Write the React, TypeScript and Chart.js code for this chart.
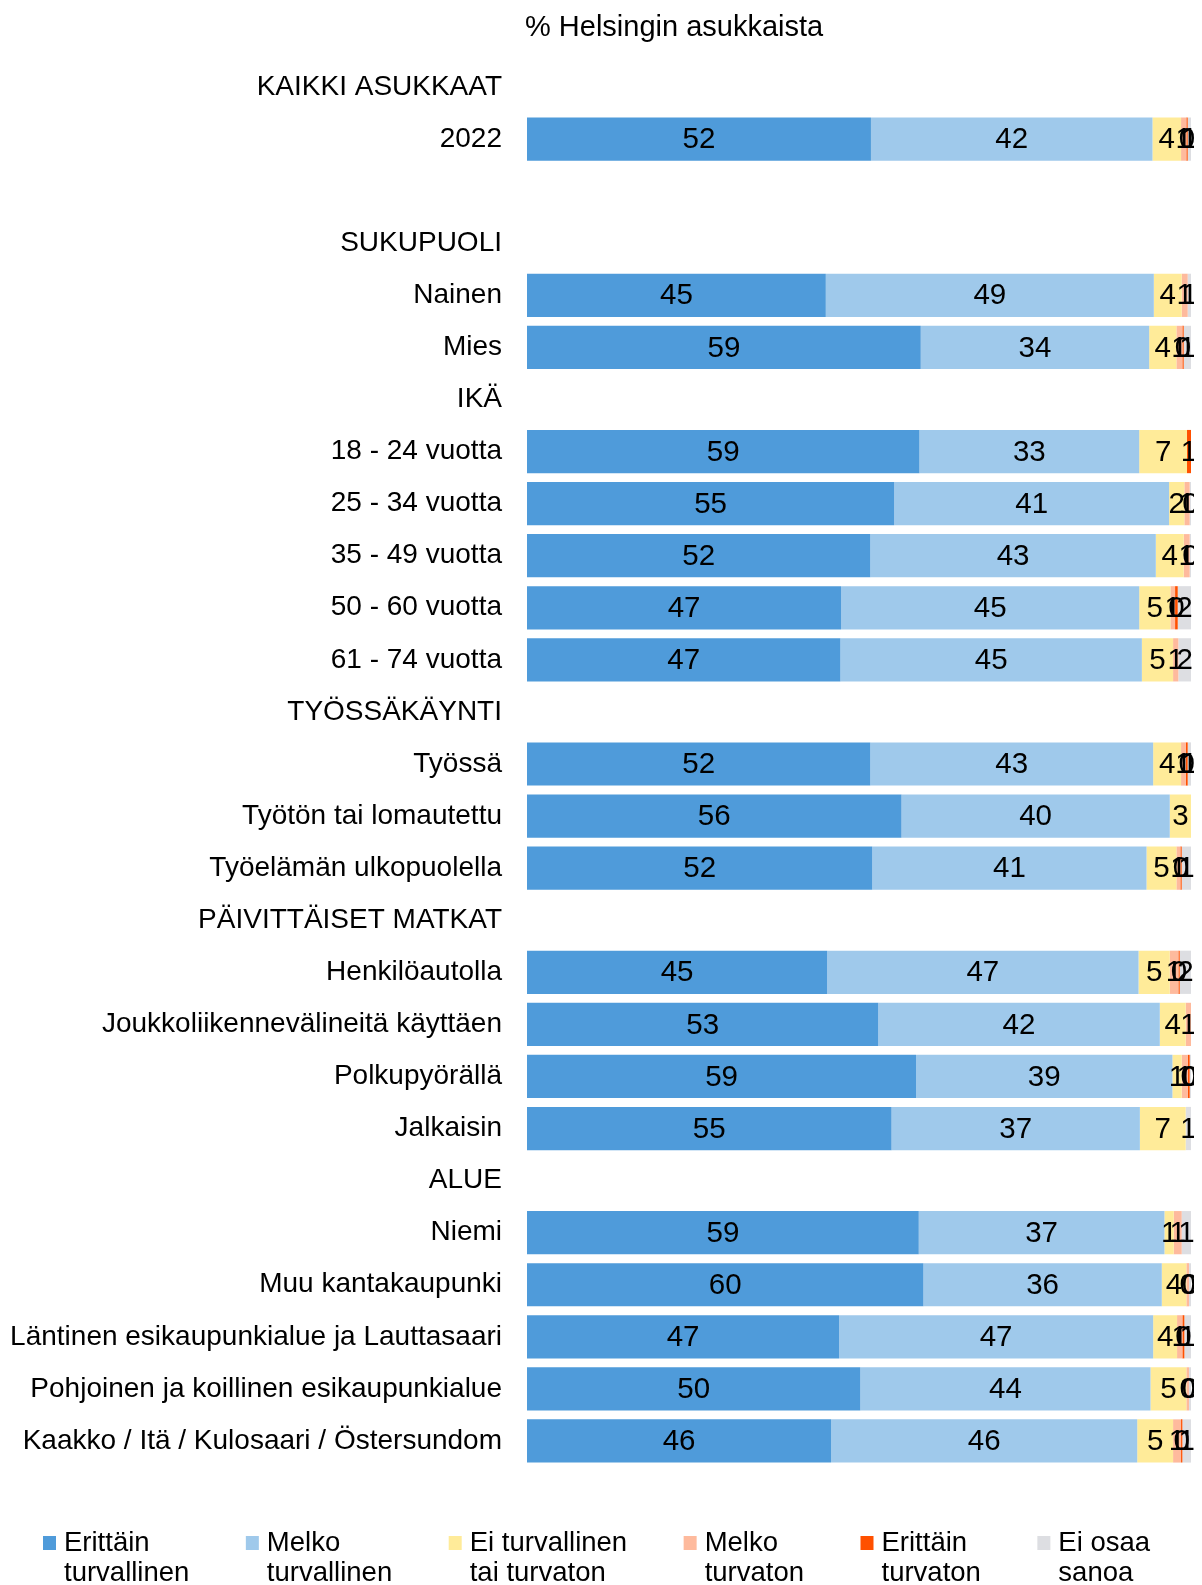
import React, { useEffect, useRef } from "react";
import { Chart, registerables } from "chart.js";

Chart.register(...registerables);

const categories: string[] = [
  "KAIKKI ASUKKAAT",
  "2022",
  "",
  "SUKUPUOLI",
  "Nainen",
  "Mies",
  "IKÄ",
  "18 - 24 vuotta",
  "25 - 34 vuotta",
  "35 - 49 vuotta",
  "50 - 60 vuotta",
  "61 - 74 vuotta",
  "TYÖSSÄKÄYNTI",
  "Työssä",
  "Työtön tai lomautettu",
  "Työelämän ulkopuolella",
  "PÄIVITTÄISET MATKAT",
  "Henkilöautolla",
  "Joukkoliikennevälineitä käyttäen",
  "Polkupyörällä",
  "Jalkaisin",
  "ALUE",
  "Niemi",
  "Muu kantakaupunki",
  "Läntinen esikaupunkialue ja Lauttasaari",
  "Pohjoinen ja koillinen esikaupunkialue",
  "Kaakko / Itä / Kulosaari / Östersundom",
];

const erittainTurvallinen = [null, 51.8, null, null, 45.0, 59.3, null, 59.1, 55.3, 51.7, 47.3, 47.2, null, 51.7, 56.4, 52.0, null, 45.2, 52.9, 58.6, 54.9, null, 59.0, 59.7, 47.0, 50.2, 45.8];
const melkoTurvallinen = [null, 42.4, null, null, 49.4, 34.4, null, 33.1, 41.4, 43.0, 44.9, 45.4, null, 42.6, 40.4, 41.3, null, 46.9, 42.4, 38.6, 37.4, null, 37.0, 35.9, 47.3, 43.7, 46.1];
const eiTurvallinenTaiTurvaton = [null, 4.3, null, null, 4.2, 4.1, null, 7.2, 2.3, 4.2, 4.7, 4.7, null, 4.2, 3.2, 4.5, null, 4.7, 3.9, 1.4, 6.9, null, 1.4, 3.7, 3.6, 5.4, 5.4];
const melkoTurvaton = [null, 0.8, null, null, 0.9, 0.9, null, 0, 0.8, 0.9, 0.7, 0.8, null, 0.7, 0, 0.6, null, 1.3, 0.8, 0.9, 0, null, 1.2, 0.4, 0.8, 0.4, 1.2];
const erittainTurvaton = [null, 0.2, null, null, 0, 0.2, null, 0.6, 0, 0, 0.4, 0, null, 0.3, 0, 0.2, null, 0.2, 0, 0.3, 0, null, 0, 0, 0.3, 0, 0.2];
const eiOsaaSanoa = [null, 0.5, null, null, 0.5, 1.1, null, 0, 0.2, 0.2, 2.0, 1.9, null, 0.5, 0, 1.4, null, 1.7, 0, 0.2, 0.8, null, 1.4, 0.3, 1.0, 0.3, 1.3];

const seriesLabels: string[][] = [
  ["Erittäin", "turvallinen"],
  ["Melko", "turvallinen"],
  ["Ei turvallinen", "tai turvaton"],
  ["Melko", "turvaton"],
  ["Erittäin", "turvaton"],
  ["Ei osaa", "sanoa"],
];
const seriesColors = ["#4F9BDA", "#9FC9EB", "#FFEB99", "#FEBA9D", "#FF5000", "#DDDEE2"];
const seriesData = [
  erittainTurvallinen,
  melkoTurvallinen,
  eiTurvallinenTaiTurvaton,
  melkoTurvaton,
  erittainTurvaton,
  eiOsaaSanoa,
];

const titleText = "% Helsingin asukkaista";
const FONT = "'Liberation Sans', Arial, sans-serif";

const CANVAS_W = 1186;
const CANVAS_H = 1577;

const labelsPlugin = {
  id: "segLabels",
  afterDatasetsDraw(chart: any) {
    const ctx = chart.ctx;
    ctx.save();
    ctx.font = `29.5px ${FONT}`;
    ctx.fillStyle = "#000";
    ctx.textAlign = "center";
    ctx.textBaseline = "middle";
    chart.data.datasets.forEach((ds: any, di: number) => {
      const meta = chart.getDatasetMeta(di);
      meta.data.forEach((el: any, i: number) => {
        const v = ds.data[i];
        if (v == null || v <= 0) return;
        const cx = (el.x + el.base) / 2;
        ctx.fillText(String(Math.round(v)), cx, el.y + 1);
      });
    });
    ctx.restore();
  },
};

const titleLegendPlugin = {
  id: "titleLegend",
  afterDraw(chart: any) {
    const ctx = chart.ctx;
    const area = chart.chartArea;
    ctx.save();
    ctx.fillStyle = "#000";
    ctx.font = `29px ${FONT}`;
    ctx.textAlign = "left";
    ctx.textBaseline = "middle";
    ctx.fillText(titleText, area.left - 2, 20);

    // legend
    ctx.font = `27.5px ${FONT}`;
    const box = 13;
    const gapBox = 8;
    const gapItem = 56.5;
    const widths = seriesLabels.map((lines) =>
      Math.max(...lines.map((l) => ctx.measureText(l).width))
    );
    let x = 35;
    const y1 = 1535;
    const lh = 30;
    seriesLabels.forEach((lines, i) => {
      ctx.fillStyle = seriesColors[i];
      ctx.fillRect(x, y1 - 7, box, 14);
      ctx.fillStyle = "#000";
      lines.forEach((l, li) => {
        ctx.fillText(l, x + box + gapBox, y1 + li * lh);
      });
      x += box + gapBox + widths[i] + gapItem;
    });
    ctx.restore();
  },
};

export default function App() {
  const ref = useRef<HTMLCanvasElement | null>(null);
  useEffect(() => {
    if (!ref.current) return;
    const chart = new Chart(ref.current, {
      type: "bar",
      data: {
        labels: categories,
        datasets: seriesData.map((d, i) => ({
          label: seriesLabels[i].join(" "),
          data: d as any,
          backgroundColor: seriesColors[i],
          borderWidth: 0,
          categoryPercentage: 1,
          barPercentage: 0.83,
        })),
      },
      options: {
        indexAxis: "y",
        responsive: false,
        animation: false,
        devicePixelRatio: 1,
        layout: { padding: { top: 53, bottom: 118, right: 3, left: 0 } },
        plugins: {
          legend: { display: false },
          title: { display: false },
          tooltip: { enabled: false },
        },
        scales: {
          x: {
            stacked: true,
            min: 0,
            max: 100,
            display: false,
          },
          y: {
            stacked: true,
            grid: { display: false },
            border: { display: false },
            ticks: {
              color: "#000",
              font: { family: FONT, size: 28 },
              padding: 17,
              autoSkip: false,
            },
            afterFit: (scale: any) => {
              scale.width = 519;
            },
          },
        },
      } as any,
      plugins: [labelsPlugin, titleLegendPlugin],
    });
    return () => chart.destroy();
  }, []);
  return (
    <div style={{ position: "fixed", left: 8, top: 8, width: CANVAS_W, height: CANVAS_H }}>
      <canvas ref={ref} width={CANVAS_W} height={CANVAS_H} style={{ display: "block" }} />
    </div>
  );
}
